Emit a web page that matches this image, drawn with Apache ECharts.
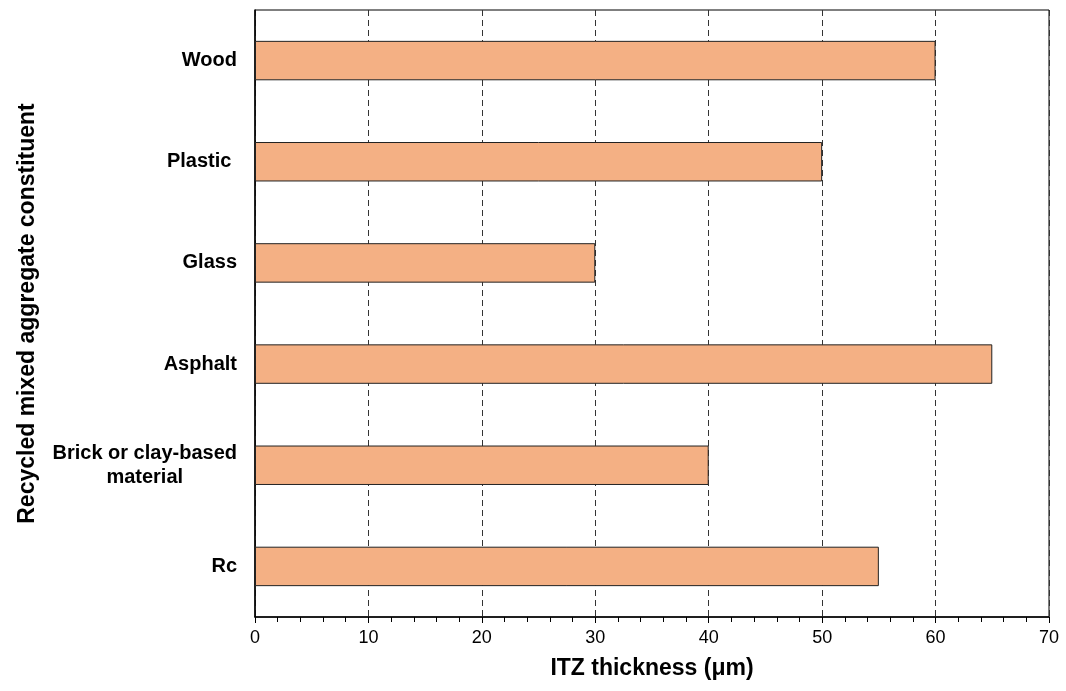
<!DOCTYPE html>
<html><head><meta charset="utf-8">
<script src="https://cdn.jsdelivr.net/npm/echarts@6/dist/echarts.min.js"></script>
<style>html,body{margin:0;padding:0;background:#fff}#c{width:1066px;height:691px}</style>
</head><body><div id="c"></div>
<script>
const categories = ["Wood", "Plastic ", "Glass", "Asphalt", "Brick or clay-based\nmaterial", "Rc"];
const values = [60, 50, 30, 65, 40, 55];
const xTicks = [0, 10, 20, 30, 40, 50, 60, 70];

const FONT = "Liberation Sans";
const chart = echarts.init(document.getElementById('c'), null, {renderer: 'canvas'});
chart.setOption({
  animation: false,
  backgroundColor: '#fff',
  grid: {left: 255, right: 17, top: 10, bottom: 74, show: true, borderColor: '#000', borderWidth: 1, backgroundColor: 'transparent'},
  xAxis: {
    type: 'value', min: xTicks[0], max: xTicks[xTicks.length - 1], interval: 10,
    name: 'ITZ thickness (\u03bcm)', nameLocation: 'middle', nameGap: 40,
    nameTextStyle: {fontFamily: FONT, fontWeight: 'bold', fontSize: 23, color: '#000'},
    axisLine: {show: true, lineStyle: {color: '#000', width: 1.5}},
    axisTick: {show: true, length: 6, lineStyle: {color: '#000'}},
    minorTick: {show: true, splitNumber: 5, length: 5, lineStyle: {color: '#000'}},
    axisLabel: {fontFamily: FONT, fontSize: 18, color: '#000', margin: 12},
    splitLine: {show: true, lineStyle: {type: [6, 4], color: '#333', width: 1}}
  },
  yAxis: {
    type: 'category', data: categories, inverse: true,
    name: 'Recycled mixed aggregate constituent', nameLocation: 'middle', nameGap: 216, nameRotate: 90,
    nameTextStyle: {fontFamily: FONT, fontWeight: 'bold', fontSize: 23, color: '#000'},
    axisLine: {show: true, lineStyle: {color: '#000', width: 1.5}},
    axisTick: {show: false},
    axisLabel: {color: '#000', margin: 18, align: 'right',
      formatter: function (v) { return v.split('\n').map(function (s) { return '{c|' + s + '}'; }).join('\n'); },
      rich: {c: {align: 'center', fontFamily: FONT, fontWeight: 'bold', fontSize: 20, color: '#000', lineHeight: 24}}
    },
    splitLine: {show: false}
  },
  series: [{
    type: 'bar', data: values, barWidth: '39%',
    itemStyle: {color: '#F4B084', borderColor: '#222', borderWidth: 1}
  }]
});
</script></body></html>
